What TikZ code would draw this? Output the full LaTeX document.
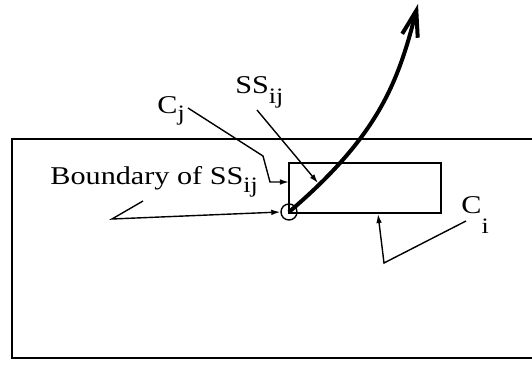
\documentclass[tikz,border=0pt]{standalone}
\usepackage{fontspec}
\setmainfont{Liberation Serif}[FakeStretch=1.18]
\usepackage{tikz}
\usetikzlibrary{arrows.meta,calc}

% subscript set fairly large and hung below the baseline
\newcommand\lowsub[2]{\raisebox{-#1}{\fontsize{11}{12}\selectfont #2}}

\tikzset{
  lbl/.style={anchor=base west,inner sep=0pt,font=\fontsize{12.8}{15}\selectfont},
  leader/.style={line width=0.7pt,-{Latex[length=4.5pt,width=2.8pt]}},
  frame/.style={line width=0.75pt}
}

\begin{document}
\begin{tikzpicture}[x=0.5pt,y=-0.5pt]
    \useasboundingbox (0,0) rectangle (532,365);
    % outer region, open on the right
    \draw[frame] (532,139) -- (12,139) -- (12,358) -- (532,358);
    % inner cell
    \draw[frame] (289,163) rectangle (441,213);
    \node[draw,circle,line width=0.7pt,minimum size=8pt,inner sep=0pt] (pt) at (289,212) {};
    % labels
    \node[lbl] (cj) at (157,113) {C\lowsub{3.5pt}{j}};
    \node[lbl] (ssij) at (235,93) {SS\lowsub{5pt}{ij}};
    \node[lbl] (bnd) at (50,184) {Boundary of SS\lowsub{4pt}{ij}};
    \node[lbl] (ci) at (461,213) {C\lowsub{10pt}{i}};
    % leader ends
    \coordinate (cjtail) at (188,108);
    \coordinate (cjbend) at (263,156);
    \coordinate (cjfoot) at (270,182);
    \coordinate (cjtip) at (289,182);
    \coordinate (sstail) at (257,110);
    \coordinate (sstip) at (318,183);
    \coordinate (bndtail) at (143,201);
    \coordinate (bndbend) at (112,219);
    \coordinate (citail) at (466,221);
    \coordinate (cibend) at (384,263);
    \coordinate (citip) at (378,214);
    \coordinate (top) at (418,4);
    % leaders
    \draw[leader] (cjtail) -- (cjbend) -- (cjfoot) -- (cjtip);
    \draw[leader] (sstail) -- (sstip);
    \draw[leader] (bndtail) -- (bndbend) -- (pt.west);
    \draw[leader] (citail) -- (cibend) -- (citip);
    % escape path
    \draw[line width=2pt,-{Straight Barb[length=13pt,width=8pt]}]
      (pt.center) .. controls (378,136) and (398,83) .. (top);
\end{tikzpicture}
\end{document}
